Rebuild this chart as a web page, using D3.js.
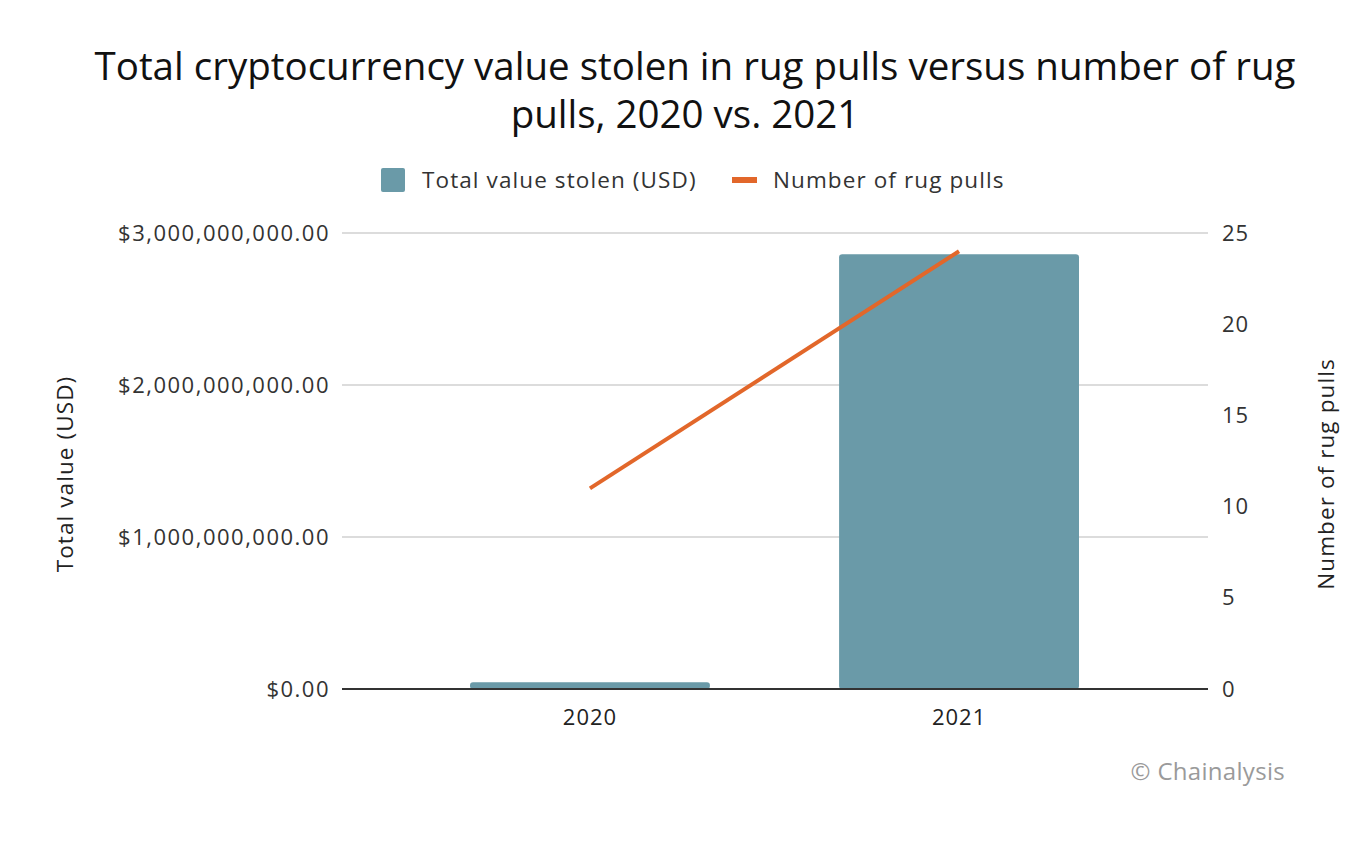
<!DOCTYPE html>
<html><head><meta charset="utf-8">
<script src="https://cdn.jsdelivr.net/npm/d3@7"></script>
<style>body{margin:0;background:#fff;}svg{display:block;font-family:"Open Sans",sans-serif;}</style>
</head><body>
<svg id="c" width="1360" height="854"></svg>
<script>
const years = ["2020", "2021"];
const valueStolen = [45000000, 2860000000];
const rugPulls = [11, 24];
const leftTicks = [0, 1e9, 2e9, 3e9];
const rightTicks = [0, 5, 10, 15, 20, 25];

const svg = d3.select("#c");
const plotL = 342, plotR = 1208, plotT = 233, plotB = 689;
const x = d3.scaleBand().domain(years).range([470, 1079]).paddingInner(0.35).paddingOuter(0);
const yL = d3.scaleLinear().domain([0, 3e9]).range([plotB, plotT]);
const yR = d3.scaleLinear().domain([0, 25]).range([plotB, plotT]);
const fmt = d => "$" + d3.format(",.2f")(d);

// title
svg.append("text").attr("x", 695).attr("y", 80).attr("text-anchor", "middle")
  .attr("font-size", 38.5).attr("fill", "#111").text("Total cryptocurrency value stolen in rug pulls versus number of rug");
svg.append("text").attr("x", 685).attr("y", 128).attr("text-anchor", "middle")
  .attr("font-size", 38.5).attr("fill", "#111").text("pulls, 2020 vs. 2021");

// legend
const lg = svg.append("g");
lg.append("rect").attr("x", 381).attr("y", 168).attr("width", 24).attr("height", 24).attr("rx", 2).attr("fill", "#6a9aa8");
lg.append("text").attr("x", 422).attr("y", 188).attr("font-size", 22.5).attr("letter-spacing", 1.1).attr("fill", "#333").text("Total value stolen (USD)");
lg.append("rect").attr("x", 732).attr("y", 177).attr("width", 25).attr("height", 6).attr("fill", "#e2672a");
lg.append("text").attr("x", 773).attr("y", 188).attr("font-size", 22.5).attr("letter-spacing", 1.1).attr("fill", "#333").text("Number of rug pulls");

// gridlines
svg.append("g").selectAll("line").data(leftTicks.filter(d => d > 0)).join("line")
  .attr("x1", plotL).attr("x2", plotR).attr("y1", d => yL(d)).attr("y2", d => yL(d))
  .attr("stroke", "#d0d0d0").attr("stroke-width", 1.5);

// left axis
const la = svg.append("g").attr("transform", `translate(${plotL},0)`)
  .call(d3.axisLeft(yL).tickValues(leftTicks).tickFormat(fmt).tickSize(0).tickPadding(12));
la.select(".domain").remove();
la.selectAll("text").attr("font-size", 22).attr("letter-spacing", 1.5).attr("fill", "#333").attr("font-family", "Open Sans, sans-serif");

// right axis
const ra = svg.append("g").attr("transform", `translate(${plotR},0)`)
  .call(d3.axisRight(yR).tickValues(rightTicks).tickFormat(d3.format("d")).tickSize(0).tickPadding(14));
ra.select(".domain").remove();
ra.selectAll("text").attr("font-size", 22).attr("letter-spacing", 1).attr("fill", "#333").attr("font-family", "Open Sans, sans-serif");

// bars
svg.append("g").selectAll("rect").data(years).join("rect")
  .attr("x", d => x(d)).attr("width", x.bandwidth())
  .attr("y", (d, i) => yL(valueStolen[i])).attr("height", (d, i) => plotB - yL(valueStolen[i]))
  .attr("rx", 3).attr("fill", "#6a9aa8");

// baseline
svg.append("line").attr("x1", plotL).attr("x2", plotR).attr("y1", plotB).attr("y2", plotB)
  .attr("stroke", "#333").attr("stroke-width", 2);

// x axis
const xa = svg.append("g").attr("transform", `translate(0,${plotB})`)
  .call(d3.axisBottom(x).tickSize(0).tickPadding(20));
xa.select(".domain").remove();
xa.selectAll("text").attr("font-size", 22).attr("letter-spacing", 1).attr("fill", "#222").attr("font-family", "Open Sans, sans-serif");

// line
const line = d3.line().x((d, i) => x(years[i]) + x.bandwidth() / 2).y(d => yR(d));
svg.append("path").datum(rugPulls).attr("d", line).attr("fill", "none")
  .attr("stroke", "#e2672a").attr("stroke-width", 4);

// axis titles
svg.append("text").attr("transform", "translate(73,474) rotate(-90)").attr("text-anchor", "middle")
  .attr("font-size", 22.5).attr("letter-spacing", 1.1).attr("fill", "#222").text("Total value (USD)");
svg.append("text").attr("transform", "translate(1334,474) rotate(-90)").attr("text-anchor", "middle")
  .attr("font-size", 22.5).attr("letter-spacing", 1.1).attr("fill", "#222").text("Number of rug pulls");

// source
svg.append("text").attr("x", 1285).attr("y", 780).attr("text-anchor", "end")
  .attr("font-size", 24).attr("letter-spacing", 0.3).attr("fill", "#9a9a9a").text("© Chainalysis");
</script>
</body></html>
